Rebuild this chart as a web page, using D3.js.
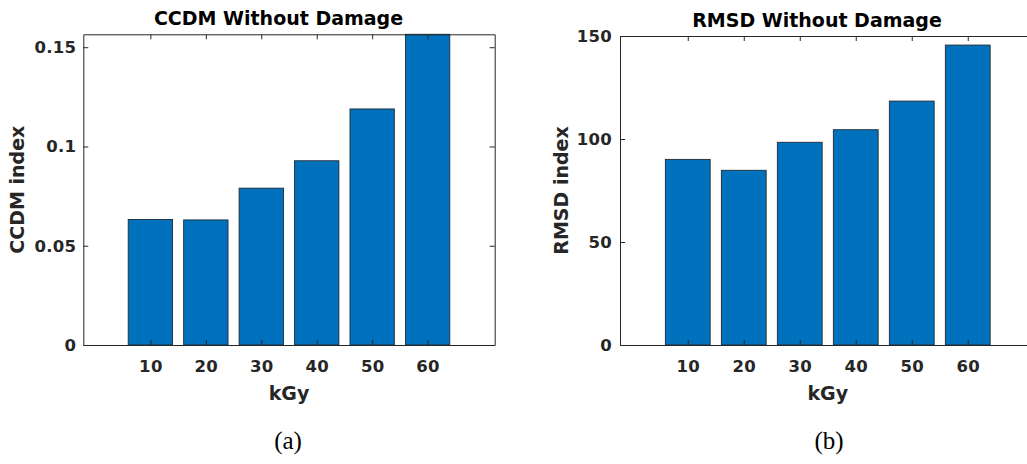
<!DOCTYPE html>
<html>
<head>
<meta charset="utf-8">
<script src="https://cdn.jsdelivr.net/npm/d3@7"></script>
<style>
  html, body { margin: 0; padding: 0; background: #fff; }
  svg { display: block; }
  .tick text { font-family: "DejaVu Sans", sans-serif; font-weight: bold; font-size: 16.5px; fill: #262626; letter-spacing: 0.3px; }
  .tick line, .domain { stroke: #262626; stroke-width: 1; }
</style>
</head>
<body>
<svg id="chart" width="1027" height="464"></svg>
<script>
// Dose levels (kGy)
const doses = [10, 20, 30, 40, 50, 60];
const doseTicks = ["10", "20", "30", "40", "50", "60"];

// CCDM index per dose
const ccdmValues = [0.0632, 0.0630, 0.0790, 0.0928, 0.1189, 0.1565];
const ccdmTicks = [0, 0.05, 0.1, 0.15];
const ccdmTickLabels = ["0", "0.05", "0.1", "0.15"];

// RMSD index per dose
const rmsdValues = [90.1, 84.8, 98.4, 104.5, 118.4, 145.6];
const rmsdTicks = [0, 50, 100, 150];
const rmsdTickLabels = ["0", "50", "100", "150"];

const svg = d3.select("#chart");
const barColor = "#0072BD";

function drawPanel(opt) {
  const { left, right, top, bottom } = opt;
  const x = d3.scaleLinear().domain([-2.1, 72.1]).range([left, right]);
  const y = d3.scaleLinear().domain([0, opt.yMax]).range([bottom, top]);
  const g = svg.append("g");

  // bars (width = 0.8 of the dose spacing)
  const bw = x(8) - x(0);
  g.append("g").selectAll("rect")
    .data(opt.values)
    .join("rect")
    .attr("x", (d, i) => x(doses[i]) - bw / 2)
    .attr("y", d => y(d))
    .attr("width", bw)
    .attr("height", d => y(0) - y(d))
    .attr("fill", barColor)
    .attr("stroke", "#1f2a33")
    .attr("stroke-width", 0.9);

  // left axis
  const yAxis = d3.axisLeft(y)
    .tickValues(opt.ticks)
    .tickFormat((d, i) => opt.tickLabels[i])
    .tickSize(-5).tickSizeOuter(0).tickPadding(opt.yPad);
  g.append("g").attr("transform", `translate(${left},0)`).call(yAxis);

  // bottom axis
  const xAxis = d3.axisBottom(x)
    .tickValues(doses)
    .tickFormat((d, i) => doseTicks[i])
    .tickSize(-5).tickSizeOuter(0).tickPadding(15);
  g.append("g").attr("transform", `translate(0,${bottom})`).call(xAxis);

  // top and right box edges with inward ticks
  g.append("g").attr("transform", `translate(0,${top})`)
    .call(d3.axisTop(x).tickValues(doses).tickFormat("").tickSize(-5).tickSizeOuter(0));
  g.append("g").attr("transform", `translate(${right},0)`)
    .call(d3.axisRight(y).tickValues(opt.ticks).tickFormat("").tickSize(-5).tickSizeOuter(0));

  // title
  g.append("text")
    .attr("x", opt.titleX).attr("y", opt.titleY)
    .attr("text-anchor", "middle")
    .attr("font-family", "DejaVu Sans, sans-serif")
    .attr("font-weight", "bold").attr("font-size", 19)
    .attr("fill", "#000")
    .text(opt.title);

  // x label
  g.append("text")
    .attr("x", (left + right) / 2).attr("y", 400)
    .attr("text-anchor", "middle")
    .attr("font-family", "DejaVu Sans, sans-serif")
    .attr("font-weight", "bold").attr("font-size", 19)
    .attr("fill", "#262626")
    .text("kGy");

  // y label
  g.append("text")
    .attr("transform", `translate(${opt.yLabelX},${(top + bottom) / 2}) rotate(-90)`)
    .attr("text-anchor", "middle")
    .attr("font-family", "DejaVu Sans, sans-serif")
    .attr("font-weight", "bold").attr("font-size", 19)
    .attr("fill", "#262626")
    .text(opt.yLabel);

  // panel caption
  g.append("text")
    .attr("x", opt.captionX).attr("y", 449)
    .attr("text-anchor", "middle")
    .attr("font-family", "Liberation Serif, Times New Roman, serif")
    .attr("font-size", 25)
    .attr("fill", "#000")
    .text(opt.caption);
}

drawPanel({
  left: 83.3, right: 494.7, top: 34.3, bottom: 345,
  yMax: 0.1565, values: ccdmValues,
  ticks: ccdmTicks, tickLabels: ccdmTickLabels, yPad: 7,
  title: "CCDM Without Damage", titleX: 278.5, titleY: 25,
  yLabel: "CCDM index", yLabelX: 24,
  caption: "(a)", captionX: 288
});

drawPanel({
  left: 620, right: 1035.5, top: 36, bottom: 345,
  yMax: 150, values: rmsdValues,
  ticks: rmsdTicks, tickLabels: rmsdTickLabels, yPad: 8,
  title: "RMSD Without Damage", titleX: 817, titleY: 26.5,
  yLabel: "RMSD index", yLabelX: 568,
  caption: "(b)", captionX: 829
});
</script>
</body>
</html>
